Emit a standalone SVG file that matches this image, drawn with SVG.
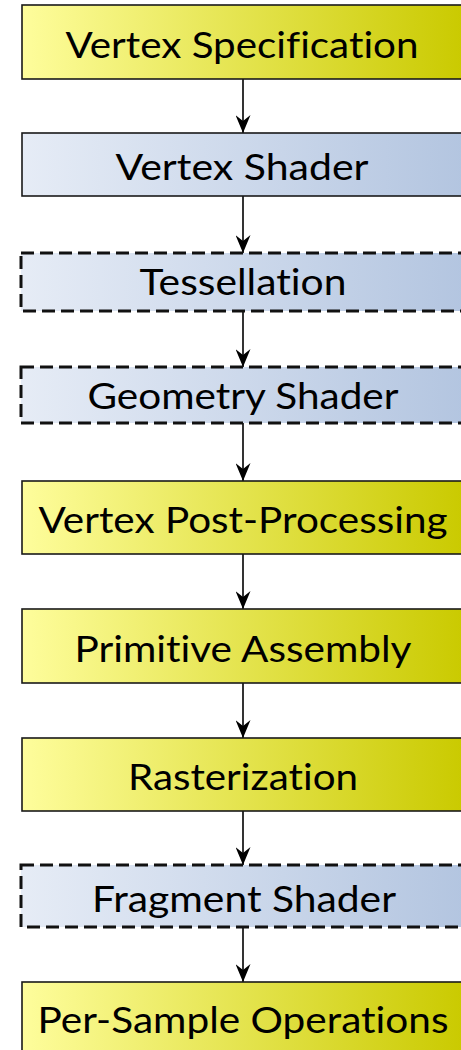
<svg xmlns="http://www.w3.org/2000/svg" width="461" height="1050" viewBox="0 0 461 1050">
<defs>
<linearGradient id="gy" x1="0" y1="0" x2="1" y2="0">
<stop offset="0" stop-color="#FEFD9C"/>
<stop offset="1" stop-color="#CACA00"/>
</linearGradient>
<linearGradient id="gb" x1="0" y1="0" x2="1" y2="0">
<stop offset="0" stop-color="#E6ECF6"/>
<stop offset="1" stop-color="#B3C5E0"/>
</linearGradient>
<marker id="ah" viewBox="0 0 18 15" refX="18" refY="7.5" markerWidth="18" markerHeight="15" markerUnits="userSpaceOnUse" orient="auto">
<path d="M0,0 L18,7.5 L0,15 L6,7.5 Z" fill="#000"/>
</marker>
<style>
.y{fill:url(#gy);stroke:#1a1a1a;stroke-width:1.6}
.b{fill:url(#gb);stroke:#1a1a1a;stroke-width:1.6}
.d{fill:url(#gb);stroke:#111;stroke-width:3;stroke-dasharray:13 6}
.t{font-family:Lato,"Open Sans","Liberation Sans",sans-serif;font-size:37px;fill:#000;text-anchor:middle;font-variant-ligatures:none;font-feature-settings:"liga" 0,"clig" 0}
.c{stroke:#000;stroke-width:1.6;fill:none;marker-end:url(#ah)}
</style>
</defs>
<g id="connectors">
<line class="c" x1="243" y1="79" x2="243" y2="133"/>
<line class="c" x1="243" y1="196" x2="243" y2="253"/>
<line class="c" x1="243" y1="311" x2="243" y2="367"/>
<line class="c" x1="243" y1="423" x2="243" y2="481"/>
<line class="c" x1="243" y1="554" x2="243" y2="609"/>
<line class="c" x1="243" y1="683" x2="243" y2="738"/>
<line class="c" x1="243" y1="811" x2="243" y2="865"/>
<line class="c" x1="243" y1="927" x2="243" y2="982"/>
</g>
<g id="vertex-specification">
<rect class="y" x="22" y="5" width="442" height="74"/>
<text class="t" x="242" y="58" textLength="353" lengthAdjust="spacingAndGlyphs">Vertex Specification</text>
</g>
<g id="vertex-shader">
<rect class="b" x="22" y="133" width="442" height="63"/>
<text class="t" x="242" y="180" textLength="253" lengthAdjust="spacingAndGlyphs">Vertex Shader</text>
</g>
<g id="tessellation">
<rect class="d" x="21" y="253" width="444" height="58"/>
<text class="t" x="243" y="295" textLength="207" lengthAdjust="spacingAndGlyphs">Tessellation</text>
</g>
<g id="geometry-shader">
<rect class="d" x="21" y="367" width="444" height="56"/>
<text class="t" x="243" y="409" textLength="311" lengthAdjust="spacingAndGlyphs">Geometry Shader</text>
</g>
<g id="vertex-post-processing">
<rect class="y" x="22" y="481" width="442" height="73"/>
<text class="t" x="243" y="533" textLength="409" lengthAdjust="spacingAndGlyphs">Vertex Post-Processing</text>
</g>
<g id="primitive-assembly">
<rect class="y" x="22" y="609" width="442" height="74"/>
<text class="t" x="243" y="662" textLength="337" lengthAdjust="spacingAndGlyphs">Primitive Assembly</text>
</g>
<g id="rasterization">
<rect class="y" x="22" y="738" width="442" height="73"/>
<text class="t" x="243" y="790" textLength="230" lengthAdjust="spacingAndGlyphs">Rasterization</text>
</g>
<g id="fragment-shader">
<rect class="d" x="21" y="865" width="444" height="62"/>
<text class="t" x="244" y="912" textLength="304" lengthAdjust="spacingAndGlyphs">Fragment Shader</text>
</g>
<g id="per-sample-operations">
<rect class="y" x="22" y="982" width="442" height="74"/>
<text class="t" x="243" y="1033" textLength="411" lengthAdjust="spacingAndGlyphs">Per-Sample Operations</text>
</g>
</svg>
